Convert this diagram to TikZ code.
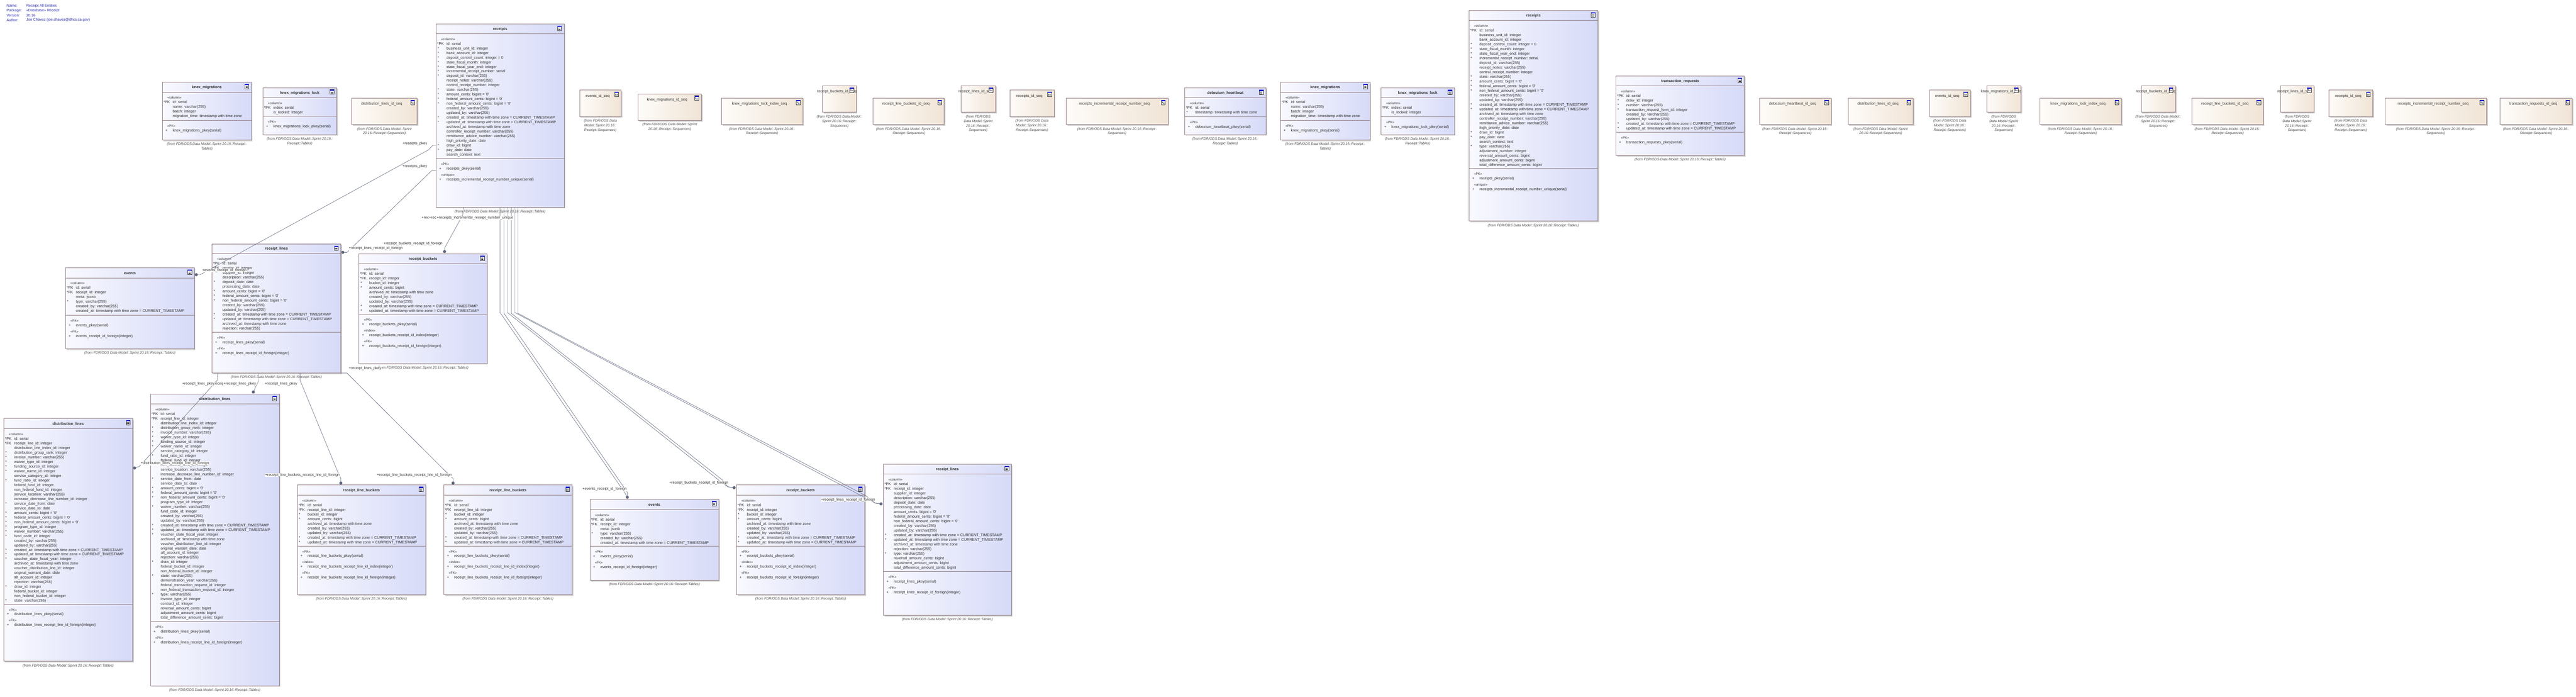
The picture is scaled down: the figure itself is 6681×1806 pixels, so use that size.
\documentclass[tikz,border=0pt]{standalone}
\usepackage{fontspec}
\setmainfont{Liberation Sans}
\usetikzlibrary{calc}
\definecolor{tblL}{RGB}{249,249,255}
\definecolor{tblR}{RGB}{214,218,247}
\definecolor{seqL}{RGB}{254,252,249}
\definecolor{seqR}{RGB}{240,228,214}
\definecolor{bord}{RGB}{150,128,134}
\definecolor{txt}{RGB}{45,45,45}
\definecolor{fromc}{RGB}{70,70,70}
\definecolor{connc}{RGB}{95,102,125}
\definecolor{legc}{RGB}{40,40,170}
\definecolor{shad}{RGB}{205,205,205}
\definecolor{iconblue}{RGB}{0,0,215}
\tikzset{
 tblbox/.style={draw=bord, line width=0.9pt, left color=tblL, right color=tblR, anchor=north west, inner sep=0pt, outer sep=0pt},
 seqbx/.style={draw=bord, line width=0.9pt, left color=seqL, right color=seqR, anchor=north west, inner sep=0pt, outer sep=0pt},
 ttl/.style={font=\fontsize{9.7}{12}\selectfont\bfseries, text=txt, inner sep=0pt},
 sttl/.style={font=\fontsize{9.7}{12}\selectfont, text=txt, inner sep=0pt},
 cmp/.style={anchor=north west, inner sep=0pt, outer sep=0pt, font=\fontsize{9.7}{12}\selectfont, text=txt},
 fromtx/.style={anchor=north, inner sep=0pt, align=center, font=\fontsize{9}{12}\selectfont\itshape, text=fromc},
 lbl/.style={anchor=west, fill=white, inner sep=0.6pt, font=\fontsize{9.5}{12}\selectfont, text=txt},
 link/.style={draw=connc, line width=0.8pt},
 fkdot/.style={circle, fill=connc, inner sep=0pt, minimum size=8pt},
 leg/.style={anchor=west, inner sep=0pt, font=\fontsize{9.5}{12}\selectfont, text=legc},
 icn/.style={inner sep=0pt, font=\fontsize{6}{6}\selectfont\bfseries, text=black}
}
\newcommand\q{\textquotesingle}
\newcommand\xCA{created\_at: timestamp with time zone = CURRENT\_TIMESTAMP}
\newcommand\xUA{updated\_at: timestamp with time zone = CURRENT\_TIMESTAMP}
\newcommand\xCB{created\_by: varchar(255)}
\newcommand\xUB{updated\_by: varchar(255)}
\newcommand\xAR{archived\_at: timestamp with time zone}
\newcommand\stf{\fontsize{8.5}{12}\selectfont}
\newcommand\st[1]{\multicolumn{2}{@{\hspace{10pt}}l@{}}{\stf«#1»}\\}
\newcommand\stx[1]{\noalign{\vskip4pt}\st{#1}}
\newcommand\pk[1]{*PK & #1\\}
\newcommand\fk[1]{*FK & #1\\}
\newcommand\rs[1]{\hspace{1pt}* & #1\\}
\newcommand\rn[1]{ & #1\\}
\newcommand\rp[1]{\hspace{5pt}+ & #1\\}
\newcommand\tblicon[3]{%
 \draw[black!75, line width=0.6pt, fill=white] ({#2},{#3}) rectangle ({#2+10},{#3+12});
 \fill[iconblue] ({#2},{#3}) rectangle ({#2+10},{#3+3});
 \draw[black!70, line width=0.5pt] ({#2+2},{#3+5.5}) -- ({#2+8},{#3+5.5}) ({#2+2},{#3+7.8}) -- ({#2+8},{#3+7.8}) ({#2+2},{#3+10}) -- ({#2+8},{#3+10});
 \coordinate (#1-ic) at ({#2+5},{#3+6});}
\newcommand\seqicon[3]{%
 \draw[black!75, line width=0.6pt, fill=white] ({#2},{#3}) rectangle ({#2+10},{#3+12});
 \fill[iconblue] ({#2},{#3}) rectangle ({#2+10},{#3+3});
 \node[icn] (#1-ic) at ({#2+5},{#3+7.8}) {1\raisebox{-1pt}{\fontsize{4}{4}\selectfont 23}};}
\newcommand\dbtab[8]{%
 \fill[shad] ({#2+3},{#3+3}) rectangle ({#4+3},{#5+3});
 \node[tblbox, minimum width={#4-#2}, minimum height={#5-#3}] (#1) at (#2,#3) {};
 \draw[bord, line width=0.9pt] (#2,#6) -- (#4,#6) (#2,#7) -- (#4,#7);
 \node[ttl] (#1-title) at ({(#2+#4)/2},{(#3+#6)/2+1}) {#8};
 \tblicon{#1}{#4-17}{#3+5}
 \def\curname{#1}\def\curl{#2}\def\curtb{#6}\def\cursep{#7}\def\curcx{(#2+#4)/2}\def\curb{#5}}
\newcommand\seqbox[6]{%
 \fill[shad] ({#2+3},{#3+3}) rectangle ({#4+3},{#5+3});
 \node[seqbx, minimum width={#4-#2}, minimum height={#5-#3}] (#1) at (#2,#3) {};
 \node[sttl] (#1-title) at ({(#2+#4-14)/2},{#3+16}) {#6};
 \seqicon{#1}{#4-17}{#3+5}
 \def\curname{#1}\def\curcx{(#2+#4)/2}\def\curb{#5}}
\newcommand\tcols[1]{\node[cmp] (\curname-c) at ({\curl+3},{\curtb+9}) {\begin{tabular}{@{}p{24pt}@{}l@{}}#1\end{tabular}};}
\newcommand\tkeys[1]{\node[cmp] (\curname-k) at ({\curl+3},{\cursep+9}) {\begin{tabular}{@{}p{24pt}@{}l@{}}#1\end{tabular}};}
\newcommand\tfrom[1]{\node[fromtx] (\curname-f) at ({\curcx},{\curb+7}) {#1};}
\newcommand\ftab{(from FDR/ODS Data Model::Sprint 20.16::Receipt::Tables)}
\begin{document}
\begin{tikzpicture}[x=1pt,y=-1pt]
\fill[white] (0,0) rectangle (6681,1806);
\useasboundingbox (0,0) rectangle (6681,1806);
% legend
\node[leg] (lg1) at (17,15) {Name:};
\node[leg] (lg2) at (17,28) {Package:};
\node[leg] (lg3) at (17,40) {Version:};
\node[leg] (lg4) at (17,52) {Author:};
\node[leg] (lv1) at (68,15) {Receipt All Entities};
\node[leg] (lv2) at (68,28) {«Database» Receipt};
\node[leg] (lv3) at (68,40) {20.16};
\node[leg] (lv4) at (68,52) {Joe Chavez (joe.chavez@dhcs.ca.gov)};

% ---------- tables ----------
\dbtab{kmig1}{421}{213}{652}{363}{239}{312}{knex\_migrations}
\tcols{\st{column}\pk{id: serial}\rn{name: varchar(255)}\rn{batch: integer}\rn{migration\_time: timestamp with time zone}}
\tkeys{\st{PK}\rp{knex\_migrations\_pkey(serial)}}
\tfrom{(from FDR/ODS Data Model::Sprint 20.16::Receipt::\\Tables)}

\dbtab{kml1}{682}{227}{873}{349}{253}{301}{knex\_migrations\_lock}
\tcols{\st{column}\pk{index: serial}\rn{is\_locked: integer}}
\tkeys{\st{PK}\rp{knex\_migrations\_lock\_pkey(serial)}}
\tfrom{(from FDR/ODS Data Model::Sprint 20.16::\\Receipt::Tables)}

\dbtab{rcpt1}{1131}{62}{1463}{537}{87}{411}{receipts}
\tcols{\st{column}\pk{id: serial}\rs{business\_unit\_id: integer}\rs{bank\_account\_id: integer}\rs{deposit\_control\_count: integer = 0}\rs{state\_fiscal\_month: integer}\rs{state\_fiscal\_year\_end: integer}\rs{incremental\_receipt\_number: serial}\rs{deposit\_id: varchar(255)}\rn{receipt\_notes: varchar(255)}\rn{control\_receipt\_number: integer}\rs{state: varchar(255)}\rs{amount\_cents: bigint = \q0\q}\rs{federal\_amount\_cents: bigint = \q0\q}\rs{non\_federal\_amount\_cents: bigint = \q0\q}\rn{\xCB}\rn{\xUB}\rs{\xCA}\rs{\xUA}\rn{\xAR}\rn{controller\_receipt\_number: varchar(255)}\rn{remittance\_advice\_number: varchar(255)}\rn{high\_priority\_date: date}\rs{draw\_id: bigint}\rs{pay\_date: date}\rn{search\_context: text}}
\tkeys{\st{PK}\rp{receipts\_pkey(serial)}\stx{unique}\rp{receipts\_incremental\_receipt\_number\_unique(serial)}}
\tfrom{\ftab}

\dbtab{ev1}{170}{694}{504}{904}{720}{817}{events}
\tcols{\st{column}\pk{id: serial}\fk{receipt\_id: integer}\rn{meta: jsonb}\rs{type: varchar(255)}\rn{\xCB}\rn{\xCA}}
\tkeys{\st{PK}\rp{events\_pkey(serial)}\stx{FK}\rp{events\_receipt\_id\_foreign(integer)}}
\tfrom{\ftab}

\dbtab{rl1}{550}{632}{884}{967}{657}{861}{receipt\_lines}
\tcols{\st{column}\pk{id: serial}\fk{receipt\_id: integer}\rn{supplier\_id: integer}\rn{description: varchar(255)}\rs{deposit\_date: date}\rn{processing\_date: date}\rs{amount\_cents: bigint = \q0\q}\rs{federal\_amount\_cents: bigint = \q0\q}\rs{non\_federal\_amount\_cents: bigint = \q0\q}\rn{\xCB}\rn{\xUB}\rs{\xCA}\rs{\xUA}\rn{\xAR}\rn{rejection: varchar(255)}}
\tkeys{\st{PK}\rp{receipt\_lines\_pkey(serial)}\stx{FK}\rp{receipt\_lines\_receipt\_id\_foreign(integer)}}
\tfrom{\ftab}

\dbtab{rb1}{931}{658}{1263}{942}{683}{815}{receipt\_buckets}
\tcols{\st{column}\pk{id: serial}\fk{receipt\_id: integer}\rs{bucket\_id: integer}\rs{amount\_cents: bigint}\rn{\xAR}\rn{\xCB}\rn{\xUB}\rs{\xCA}\rs{\xUA}}
\tkeys{\st{PK}\rp{receipt\_buckets\_pkey(serial)}\stx{index}\rp{receipt\_buckets\_receipt\_id\_index(integer)}\stx{FK}\rp{receipt\_buckets\_receipt\_id\_foreign(integer)}}
\tfrom{\ftab}

\dbtab{dl1}{10}{1084}{344}{1714}{1111}{1566}{distribution\_lines}
\tcols{\st{column}\pk{id: serial}\fk{receipt\_line\_id: integer}\rn{distribution\_line\_index\_id: integer}\rs{distribution\_group\_rank: integer}\rs{invoice\_number: varchar(255)}\rs{waiver\_type\_id: integer}\rs{funding\_source\_id: integer}\rs{waiver\_name\_id: integer}\rn{service\_category\_id: integer}\rs{fund\_ratio\_id: integer}\rn{federal\_fund\_id: integer}\rn{non\_federal\_fund\_id: integer}\rn{service\_location: varchar(255)}\rn{increase\_decrease\_line\_number\_id: integer}\rs{service\_date\_from: date}\rn{service\_date\_to: date}\rs{amount\_cents: bigint = \q0\q}\rs{federal\_amount\_cents: bigint = \q0\q}\rs{non\_federal\_amount\_cents: bigint = \q0\q}\rs{program\_type\_id: integer}\rs{waiver\_number: varchar(255)}\rs{fund\_code\_id: integer}\rn{\xCB}\rn{\xUB}\rs{\xCA}\rs{\xUA}\rs{voucher\_state\_fiscal\_year: integer}\rn{\xAR}\rn{voucher\_distribution\_line\_id: integer}\rn{original\_warrant\_date: date}\rn{alt\_account\_id: integer}\rn{rejection: varchar(255)}\rs{draw\_id: integer}\rn{federal\_bucket\_id: integer}\rn{non\_federal\_bucket\_id: integer}\rs{state: varchar(255)}}
\tkeys{\st{PK}\rp{distribution\_lines\_pkey(serial)}\stx{FK}\rp{distribution\_lines\_receipt\_line\_id\_foreign(integer)}}
\tfrom{\ftab}

\dbtab{dl2}{390}{1021}{724}{1777}{1047}{1611}{distribution\_lines}
\tcols{\st{column}\pk{id: serial}\fk{receipt\_line\_id: integer}\rn{distribution\_line\_index\_id: integer}\rs{distribution\_group\_rank: integer}\rs{invoice\_number: varchar(255)}\rs{waiver\_type\_id: integer}\rs{funding\_source\_id: integer}\rs{waiver\_name\_id: integer}\rn{service\_category\_id: integer}\rs{fund\_ratio\_id: integer}\rn{federal\_fund\_id: integer}\rn{non\_federal\_fund\_id: integer}\rn{service\_location: varchar(255)}\rn{increase\_decrease\_line\_number\_id: integer}\rs{service\_date\_from: date}\rn{service\_date\_to: date}\rs{amount\_cents: bigint = \q0\q}\rs{federal\_amount\_cents: bigint = \q0\q}\rs{non\_federal\_amount\_cents: bigint = \q0\q}\rn{program\_type\_id: integer}\rs{waiver\_number: varchar(255)}\rn{fund\_code\_id: integer}\rn{\xCB}\rn{\xUB}\rs{\xCA}\rs{\xUA}\rs{voucher\_state\_fiscal\_year: integer}\rn{\xAR}\rn{voucher\_distribution\_line\_id: integer}\rn{original\_warrant\_date: date}\rn{alt\_account\_id: integer}\rn{rejection: varchar(255)}\rs{draw\_id: integer}\rn{federal\_bucket\_id: integer}\rn{non\_federal\_bucket\_id: integer}\rs{state: varchar(255)}\rn{demonstration\_year: varchar(255)}\rn{federal\_transaction\_request\_id: integer}\rn{non\_federal\_transaction\_request\_id: integer}\rs{type: varchar(255)}\rn{invoice\_type\_id: integer}\rn{contract\_id: integer}\rn{reversal\_amount\_cents: bigint}\rn{adjustment\_amount\_cents: bigint}\rn{total\_difference\_amount\_cents: bigint}}
\tkeys{\st{PK}\rp{distribution\_lines\_pkey(serial)}\stx{FK}\rp{distribution\_lines\_receipt\_line\_id\_foreign(integer)}}
\tfrom{\ftab}

\dbtab{rlb1}{771}{1257}{1104}{1541}{1283}{1415}{receipt\_line\_buckets}
\tcols{\st{column}\pk{id: serial}\fk{receipt\_line\_id: integer}\rs{bucket\_id: integer}\rs{amount\_cents: bigint}\rn{\xAR}\rn{\xCB}\rn{\xUB}\rs{\xCA}\rs{\xUA}}
\tkeys{\st{PK}\rp{receipt\_line\_buckets\_pkey(serial)}\stx{index}\rp{receipt\_line\_buckets\_receipt\_line\_id\_index(integer)}\stx{FK}\rp{receipt\_line\_buckets\_receipt\_line\_id\_foreign(integer)}}
\tfrom{\ftab}

\dbtab{rlb2}{1151}{1257}{1484}{1541}{1283}{1415}{receipt\_line\_buckets}
\tcols{\st{column}\pk{id: serial}\fk{receipt\_line\_id: integer}\rs{bucket\_id: integer}\rs{amount\_cents: bigint}\rn{\xAR}\rn{\xCB}\rn{\xUB}\rs{\xCA}\rs{\xUA}}
\tkeys{\st{PK}\rp{receipt\_line\_buckets\_pkey(serial)}\stx{index}\rp{receipt\_line\_buckets\_receipt\_line\_id\_index(integer)}\stx{FK}\rp{receipt\_line\_buckets\_receipt\_line\_id\_foreign(integer)}}
\tfrom{\ftab}

\dbtab{ev2}{1530}{1294}{1864}{1504}{1321}{1416}{events}
\tcols{\st{column}\pk{id: serial}\fk{receipt\_id: integer}\rn{meta: jsonb}\rs{type: varchar(255)}\rn{\xCB}\rn{\xCA}}
\tkeys{\st{PK}\rp{events\_pkey(serial)}\stx{FK}\rp{events\_receipt\_id\_foreign(integer)}}
\tfrom{\ftab}

\dbtab{rb2}{1910}{1257}{2243}{1541}{1283}{1415}{receipt\_buckets}
\tcols{\st{column}\pk{id: serial}\fk{receipt\_id: integer}\rs{bucket\_id: integer}\rs{amount\_cents: bigint}\rn{\xAR}\rn{\xCB}\rn{\xUB}\rs{\xCA}\rs{\xUA}}
\tkeys{\st{PK}\rp{receipt\_buckets\_pkey(serial)}\stx{index}\rp{receipt\_buckets\_receipt\_id\_index(integer)}\stx{FK}\rp{receipt\_buckets\_receipt\_id\_foreign(integer)}}
\tfrom{\ftab}

\dbtab{rl2}{2291}{1203}{2623}{1595}{1229}{1481}{receipt\_lines}
\tcols{\st{column}\pk{id: serial}\fk{receipt\_id: integer}\rn{supplier\_id: integer}\rn{description: varchar(255)}\rn{deposit\_date: date}\rn{processing\_date: date}\rn{amount\_cents: bigint = \q0\q}\rn{federal\_amount\_cents: bigint = \q0\q}\rn{non\_federal\_amount\_cents: bigint = \q0\q}\rn{\xCB}\rn{\xUB}\rs{\xCA}\rs{\xUA}\rn{\xAR}\rn{rejection: varchar(255)}\rs{type: varchar(255)}\rn{reversal\_amount\_cents: bigint}\rn{adjustment\_amount\_cents: bigint}\rn{total\_difference\_amount\_cents: bigint}}
\tkeys{\st{PK}\rp{receipt\_lines\_pkey(serial)}\stx{FK}\rp{receipt\_lines\_receipt\_id\_foreign(integer)}}
\tfrom{\ftab}

\dbtab{dbh}{3073}{228}{3283}{349}{253}{302}{debezium\_heartbeat}
\tcols{\st{column}\pk{id: serial}\rs{timestamp: timestamp with time zone}}
\tkeys{\st{PK}\rp{debezium\_heartbeat\_pkey(serial)}}
\tfrom{(from FDR/ODS Data Model::Sprint 20.16::\\Receipt::Tables)}

\dbtab{kmig2}{3321}{213}{3553}{363}{239}{312}{knex\_migrations}
\tcols{\st{column}\pk{id: serial}\rn{name: varchar(255)}\rn{batch: integer}\rn{migration\_time: timestamp with time zone}}
\tkeys{\st{PK}\rp{knex\_migrations\_pkey(serial)}}
\tfrom{(from FDR/ODS Data Model::Sprint 20.16::Receipt::\\Tables)}

\dbtab{kml2}{3582}{228}{3772}{349}{253}{302}{knex\_migrations\_lock}
\tcols{\st{column}\pk{index: serial}\rn{is\_locked: integer}}
\tkeys{\st{PK}\rp{knex\_migrations\_lock\_pkey(serial)}}
\tfrom{(from FDR/ODS Data Model::Sprint 20.16::\\Receipt::Tables)}

\dbtab{rcpt2}{3810}{27}{4144}{573}{53}{436}{receipts}
\tcols{\st{column}\pk{id: serial}\rn{business\_unit\_id: integer}\rn{bank\_account\_id: integer}\rs{deposit\_control\_count: integer = 0}\rs{state\_fiscal\_month: integer}\rs{state\_fiscal\_year\_end: integer}\rs{incremental\_receipt\_number: serial}\rn{deposit\_id: varchar(255)}\rn{receipt\_notes: varchar(255)}\rn{control\_receipt\_number: integer}\rs{state: varchar(255)}\rs{amount\_cents: bigint = \q0\q}\rs{federal\_amount\_cents: bigint = \q0\q}\rs{non\_federal\_amount\_cents: bigint = \q0\q}\rn{\xCB}\rn{\xUB}\rs{\xCA}\rs{\xUA}\rn{\xAR}\rn{controller\_receipt\_number: varchar(255)}\rn{remittance\_advice\_number: varchar(255)}\rn{high\_priority\_date: date}\rs{draw\_id: bigint}\rs{pay\_date: date}\rn{search\_context: text}\rs{type: varchar(255)}\rn{adjustment\_number: integer}\rn{reversal\_amount\_cents: bigint}\rn{adjustment\_amount\_cents: bigint}\rn{total\_difference\_amount\_cents: bigint}}
\tkeys{\st{PK}\rp{receipts\_pkey(serial)}\stx{unique}\rp{receipts\_incremental\_receipt\_number\_unique(serial)}}
\tfrom{\ftab}

\dbtab{txr}{4191}{197}{4524}{403}{222}{343}{transaction\_requests}
\tcols{\st{column}\pk{id: serial}\rs{draw\_id: integer}\rs{number: varchar(255)}\rs{transaction\_request\_form\_id: integer}\rn{\xCB}\rn{\xUB}\rs{\xCA}\rs{\xUA}}
\tkeys{\st{PK}\rp{transaction\_requests\_pkey(serial)}}
\tfrom{\ftab}

% ---------- sequences ----------
\seqbox{s1}{912}{254}{1082}{323}{distribution\_lines\_id\_seq}
\tfrom{(from FDR/ODS Data Model::Sprint\\20.16::Receipt::Sequences)}
\seqbox{s2}{1503}{233}{1611}{302}{events\_id\_seq}
\tfrom{(from FDR/ODS Data\\Model::Sprint 20.16::\\Receipt::Sequences)}
\seqbox{s3}{1655}{243}{1819}{312}{knex\_migrations\_id\_seq}
\tfrom{(from FDR/ODS Data Model::Sprint\\20.16::Receipt::Sequences)}
\seqbox{s4}{1871}{254}{2082}{323}{knex\_migrations\_lock\_index\_seq}
\tfrom{(from FDR/ODS Data Model::Sprint 20.16::\\Receipt::Sequences)}
\seqbox{s5}{2133}{222}{2221}{291}{receipt\_buckets\_id\_seq}
\tfrom{(from FDR/ODS Data Model::\\Sprint 20.16::Receipt::\\Sequences)}
\seqbox{s6}{2264}{254}{2449}{323}{receipt\_line\_buckets\_id\_seq}
\tfrom{(from FDR/ODS Data Model::Sprint 20.16:\\:Receipt::Sequences)}
\seqbox{s7}{2492}{222}{2582}{291}{receipt\_lines\_id\_seq}
\tfrom{(from FDR/ODS\\Data Model::Sprint\\20.16::Receipt::\\Sequences)}
\seqbox{s8}{2619}{233}{2734}{302}{receipts\_id\_seq}
\tfrom{(from FDR/ODS Data\\Model::Sprint 20.16::\\Receipt::Sequences)}
\seqbox{s9}{2765}{254}{3029}{323}{receipts\_incremental\_receipt\_number\_seq}
\tfrom{(from FDR/ODS Data Model::Sprint 20.16::Receipt::\\Sequences)}
\seqbox{s10}{4564}{254}{4749}{323}{debezium\_heartbeat\_id\_seq}
\tfrom{(from FDR/ODS Data Model::Sprint 20.16::\\Receipt::Sequences)}
\seqbox{s11}{4793}{254}{4962}{323}{distribution\_lines\_id\_seq}
\tfrom{(from FDR/ODS Data Model::Sprint\\20.16::Receipt::Sequences)}
\seqbox{s12}{5004}{233}{5110}{302}{events\_id\_seq}
\tfrom{(from FDR/ODS Data\\Model::Sprint 20.16::\\Receipt::Sequences)}
\seqbox{s13}{5153}{222}{5241}{291}{knex\_migrations\_id\_seq}
\tfrom{(from FDR/ODS\\Data Model::Sprint\\20.16::Receipt::\\Sequences)}
\seqbox{s14}{5291}{254}{5502}{323}{knex\_migrations\_lock\_index\_seq}
\tfrom{(from FDR/ODS Data Model::Sprint 20.16::\\Receipt::Sequences)}
\seqbox{s15}{5553}{222}{5642}{291}{receipt\_buckets\_id\_seq}
\tfrom{(from FDR/ODS Data Model::\\Sprint 20.16::Receipt::\\Sequences)}
\seqbox{s16}{5685}{254}{5870}{323}{receipt\_line\_buckets\_id\_seq}
\tfrom{(from FDR/ODS Data Model::Sprint 20.16::\\Receipt::Sequences)}
\seqbox{s17}{5914}{222}{6001}{291}{receipt\_lines\_id\_seq}
\tfrom{(from FDR/ODS\\Data Model::Sprint\\20.16::Receipt::\\Sequences)}
\seqbox{s18}{6040}{233}{6154}{302}{receipts\_id\_seq}
\tfrom{(from FDR/ODS Data\\Model::Sprint 20.16::\\Receipt::Sequences)}
\seqbox{s19}{6186}{254}{6449}{323}{receipts\_incremental\_receipt\_number\_seq}
\tfrom{(from FDR/ODS Data Model::Sprint 20.16::Receipt::\\Sequences)}
\seqbox{s20}{6484}{254}{6671}{323}{transaction\_requests\_id\_seq}
\tfrom{(from FDR/ODS Data Model::Sprint 20.16::\\Receipt::Sequences)}

% ---------- connectors ----------
\node[fkdot] (d1) at (509,712) {};
\node[fkdot] (d2) at (889,654) {};
\node[fkdot] (d3) at (1153,652) {};
\node[fkdot] (d4) at (1627,1289) {};
\node[fkdot] (d5) at (1904,1264) {};
\node[fkdot] (d6) at (2285,1306) {};
\node[fkdot] (d7) at (349,1213) {};
\node[fkdot] (d8) at (657,1016) {};
\node[fkdot] (d9) at (884,1252) {};
\node[fkdot] (d10) at (1175,1252) {};
\draw[link] ($(rcpt1.north west)+(0,315)$) -- ++(-9,0) -- (1112,388) -- (519,712) -- (d1.center);
\draw[link] ($(rcpt1.north west)+(0,380)$) -- ++(-11,0) -- (900,654) -- (d2.center);
\draw[link] ($(rcpt1.south west)+(71,0)$) -- ++(-2,20) -- (1192,572) -- (1153,643) -- (d3.center);
\draw[link] ($(rcpt1.south west)+(166,0)$) -- ++(0,273) -- (1621,1278) -- (d4.center);
\draw[link] ($(rcpt1.south west)+(176,0)$) -- ++(0,275) -- (1627,1276) -- (d4.center);
\draw[link] ($(rcpt1.south west)+(185,0)$) -- ++(0,273) -- (1870,1249) -- (1888,1262) -- (d5.center);
\draw[link] ($(rcpt1.south west)+(195,0)$) -- ++(0,275) -- (1876,1246) -- (1888,1262) -- (d5.center);
\draw[link] ($(rcpt1.south west)+(204,0)$) -- ++(0,273) -- (2240,1288) -- (2270,1304) -- (d6.center);
\draw[link] ($(rcpt1.south west)+(212,0)$) -- ++(0,275) -- (2246,1285) -- (2270,1304) -- (d6.center);
\draw[link] ($(rl1.south west)+(15,0)$) -- ++(-1,18) -- (378,1191) -- (361,1209) -- (d7.center);
\draw[link] ($(rl1.south west)+(121,0)$) -- ++(0,20) -- (663,1003) -- (d8.center);
\draw[link] ($(rl1.south west)+(228,0)$) -- ++(0,18) -- (878,1228) -- (884,1240) -- (d9.center);
\draw[link] (rl1.south east) -- ++(16,0) -- (1159,1225) -- (1175,1240) -- (d10.center);

% ---------- labels ----------
\node[lbl] (l1) at (1043,373) {+receipts\_pkey};
\node[lbl] (l2) at (1043,431) {+receipts\_pkey};
\node[lbl] (l3) at (524,701) {+events\_receipt\_id\_foreign};
\node[lbl] (l4) at (904,644) {+receipt\_lines\_receipt\_id\_foreign};
\node[lbl] (l5) at (994,631) {+receipt\_buckets\_receipt\_id\_foreign};
\node[lbl] (l6) at (1093,565) {+receipts\_pkey};
\node[lbl] (l7) at (1112,565) {+receipts\_pkey};
\node[lbl] (l8) at (1132,565) {+receipts\_incremental\_receipt\_number\_unique};
\node[lbl] (l9) at (1510,1268) {+events\_receipt\_id\_foreign};
\node[lbl] (l10) at (1735,1251) {+receipt\_buckets\_receipt\_id\_foreign};
\node[lbl] (l11) at (2129,1295) {+receipt\_lines\_receipt\_id\_foreign};
\node[lbl] (l12) at (549,995) {+receipt\_lines\_pkey};
\node[lbl] (l13) at (579,995) {+receipt\_lines\_pkey};
\node[lbl] (l14) at (472,995) {+receipt\_lines\_pkey};
\node[lbl] (l15) at (686,995) {+receipt\_lines\_pkey};
\node[lbl] (l16) at (364,1201) {+distribution\_lines\_receipt\_line\_id\_foreign};
\node[lbl] (l17) at (687,1231) {+receipt\_line\_buckets\_receipt\_line\_id\_foreign};
\node[lbl] (l18) at (977,1231) {+receipt\_line\_buckets\_receipt\_line\_id\_foreign};
\node[lbl] (l19) at (904,955) {+receipt\_lines\_pkey};
\end{tikzpicture}
\end{document}
